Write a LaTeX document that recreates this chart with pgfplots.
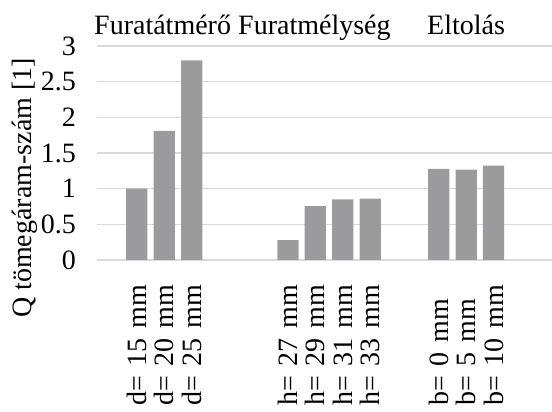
\documentclass[border=0pt]{standalone}
\usepackage{fontspec}
\setmainfont{Liberation Serif}
\usepackage{pgfplots}
\pgfplotsset{compat=1.18}
\definecolor{barc}{RGB}{155,155,157}
\definecolor{gridc}{RGB}{217,217,217}
\newcommand{\cf}{\fontsize{28bp}{32bp}\selectfont}
\begin{document}
\begin{tikzpicture}
\path[use as bounding box] (0,0) rectangle (552bp,412bp);
\begin{axis}[
  at={(97bp,152bp)}, anchor=south west,
  scale only axis, width=455bp, height=214bp,
  xmin=97, xmax=552, ymin=0, ymax=3,
  axis line style={draw=none},
  tick style={draw=none},
  major tick length=0pt,
  ytick={0,0.5,1,1.5,2,2.5,3},
  ymajorgrids,
  major grid style={gridc, line width=1.3bp},
  xtick=data,
  xticklabels={{d= 15 mm},{d= 20 mm},{d= 25 mm},{h= 27 mm},{h= 29 mm},{h= 31 mm},{h= 33 mm},{b= 0 mm},{b= 5 mm},{b= 10 mm}},
  /pgf/number format/assume math mode=true,
  yticklabel style={font=\cf, anchor=east, inner sep=0pt, xshift=-21bp},
  xticklabel style={font=\cf, rotate=90, anchor=east, text width=130bp, align=left, inner sep=0pt},
  xticklabel shift=15bp,
]
\addplot[ybar, bar width=21.3, fill=barc, draw=none] coordinates {
  (136.8,1.0) (164.2,1.81) (191.7,2.80)
  (288,0.28) (315.3,0.757) (342.7,0.85) (370.2,0.86)
  (438.8,1.276) (466.2,1.266) (493.5,1.322)
};
\end{axis}
\node[font=\cf, anchor=base west, inner sep=0pt] at (94bp,377bp) {Furatátmérő};
\node[font=\cf, anchor=base west, inner sep=0pt] at (238bp,377bp) {Furatmélység};
\node[font=\cf, anchor=base west, inner sep=0pt] at (427bp,377bp) {Eltolás};
\node[font=\cf, rotate=90, anchor=base, inner sep=0pt] at (31bp,224bp) {Q tömegáram-szám [1]};
\end{tikzpicture}
\end{document}
